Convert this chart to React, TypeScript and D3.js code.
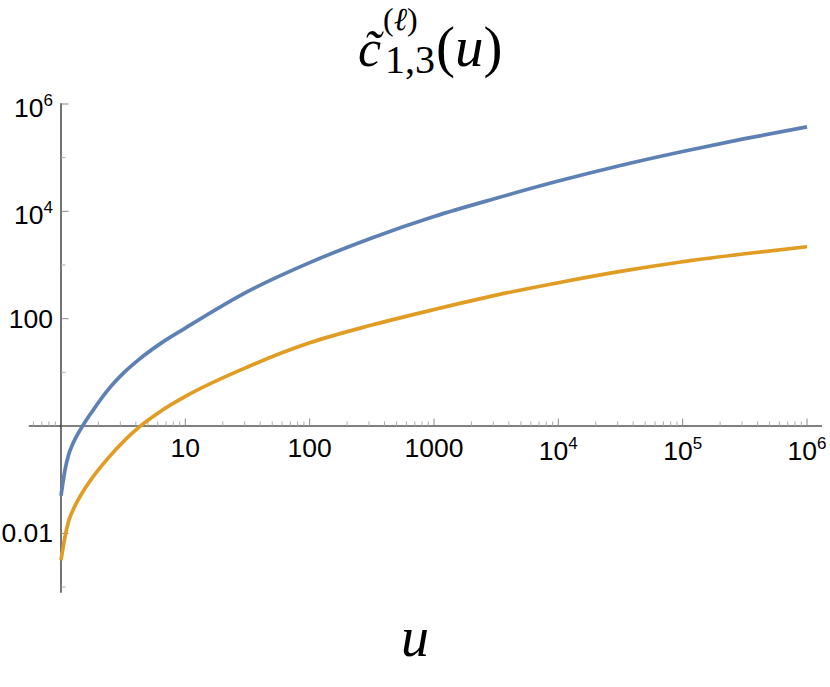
import { useEffect, useRef } from "react";
import { select, scaleLog, line, curveMonotoneX } from "d3";

// sample points (log spaced past u = 10)
const uValues = [1, 1.08, 1.15, 1.25, 1.5, 1.8, 2.3, 3.4, 4.2, 6.3, 10, 31.6, 100, 316, 1000, 3162, 1e4, 31623, 1e5, 316228, 1e6];
const blueValues = [0.05, 0.157, 0.289, 0.475, 1.02, 1.93, 4.24, 11.2, 17.1, 34.3, 66.8, 319, 1107, 3192, 8017, 17540, 36640, 71450, 130000, 226000, 375000];
const orangeValues = [0.00316, 0.00891, 0.0166, 0.0273, 0.0597, 0.111, 0.226, 0.6, 0.935, 1.87, 3.56, 12.6, 35.5, 76, 148, 275, 468, 759, 1150, 1620, 2190];

const seriesColors = ["#5E81B5", "#E19C24"];

// ticks
const xTickValues = [10, 100, 1000, 1e4, 1e5, 1e6];
const xTickLabels = ["10", "100", "1000", "10^4", "10^5", "10^6"];
const yTickValues = [1e6, 1e4, 100, 1, 0.01];
const yTickLabels = ["10^6", "10^4", "100", "", "0.01"];
const yMinorValues = [1e5, 1000, 10, 0.1, 0.001];

// axis extents
const xAxisRange = [0.55, 1.32e6];
const yAxisRange = [7.8e-4, 1.03e6];

const W = 830;
const H = 687;
const labelFont = "'Liberation Sans', Arial, Helvetica, sans-serif";
const mathFont = "'Liberation Serif', 'Times New Roman', serif";

// writes "10^4" as 10 with a raised 4
const writeLabel = (sel: any, label: string) => {
  const [base, exp] = label.split("^");
  sel.append("tspan").text(base);
  if (exp) {
    sel.append("tspan").attr("font-size", 17).attr("dy", -11).text(exp);
  }
};

const isDecade = (v: number) =>
  Math.abs(Math.log10(v) - Math.round(Math.log10(v))) < 1e-9;

export default function App() {
  const svgRef = useRef<SVGSVGElement>(null);

  useEffect(() => {
    const svg = select(svgRef.current);
    svg.selectAll(".plot").remove();
    const g = svg.append("g").attr("class", "plot");

    const x = scaleLog().domain([1, 1e6]).range([61, 807]);
    const y = scaleLog().domain([1, 1e6]).range([426, 104]);
    const x0 = y(1);
    const y0 = x(1);

    // x axis line + ticks (log minors 2..9 every decade)
    g.append("line")
      .attr("x1", x(xAxisRange[0]))
      .attr("x2", x(xAxisRange[1]))
      .attr("y1", x0)
      .attr("y2", x0)
      .attr("stroke", "#000")
      .attr("stroke-width", 1.1);

    const xAll = x.copy().domain(xAxisRange).ticks();
    g.selectAll(".xtick")
      .data(xAll.filter((v: number) => Math.abs(v - 1) > 1e-9))
      .join("line")
      .attr("class", "xtick")
      .attr("x1", (v: number) => x(v))
      .attr("x2", (v: number) => x(v))
      .attr("y1", x0)
      .attr("y2", (v: number) => (isDecade(v) ? x0 - 7.5 : x0 - 4.5))
      .attr("stroke", (v: number) => (isDecade(v) ? "#8a8a8a" : "#a8a8a8"))
      .attr("stroke-width", 1);

    xTickValues.forEach((v, i) => {
      const label = xTickLabels[i];
      const t = g
        .append("text")
        .attr("x", x(v))
        .attr("y", label.includes("^") ? x0 + 34 : x0 + 31)
        .attr("text-anchor", "middle")
        .attr("font-family", labelFont)
        .attr("font-size", 26.5)
        .attr("fill", "#000");
      writeLabel(t, label);
    });

    // y axis line + ticks
    g.append("line")
      .attr("x1", y0)
      .attr("x2", y0)
      .attr("y1", y(yAxisRange[0]))
      .attr("y2", y(yAxisRange[1]))
      .attr("stroke", "#000")
      .attr("stroke-width", 1.1);

    g.selectAll(".ytick")
      .data(yTickValues)
      .join("line")
      .attr("class", "ytick")
      .attr("x1", y0)
      .attr("x2", y0 + 7.5)
      .attr("y1", (v: number) => y(v))
      .attr("y2", (v: number) => y(v))
      .attr("stroke", "#8a8a8a")
      .attr("stroke-width", 1);

    g.selectAll(".yminor")
      .data(yMinorValues)
      .join("line")
      .attr("class", "yminor")
      .attr("x1", y0)
      .attr("x2", y0 + 4.5)
      .attr("y1", (v: number) => y(v))
      .attr("y2", (v: number) => y(v))
      .attr("stroke", "#a8a8a8")
      .attr("stroke-width", 1);

    yTickValues.forEach((v, i) => {
      const label = yTickLabels[i];
      if (!label) return;
      const t = g
        .append("text")
        .attr("x", y0 - 8)
        .attr("y", label.includes("^") ? y(v) + 12.5 : y(v) + 9)
        .attr("text-anchor", "end")
        .attr("font-family", labelFont)
        .attr("font-size", 26.5)
        .attr("fill", "#000");
      writeLabel(t, label);
    });

    // curves
    const path = line<number>()
      .x((d, i) => x(uValues[i]))
      .y((d) => y(d))
      .curve(curveMonotoneX);

    [blueValues, orangeValues].forEach((vals, k) => {
      g.append("path")
        .attr("d", path(vals))
        .attr("fill", "none")
        .attr("stroke", seriesColors[k])
        .attr("stroke-width", 3.7)
        .attr("stroke-linejoin", "round");
    });
  }, []);

  return (
    <svg
      ref={svgRef}
      width={W}
      height={H}
      style={{ position: "absolute", left: 0, top: 0, background: "#fff" }}
    >
      {/* title: c-tilde^(l)_{1,3}(u), one text element */}
      <text fontFamily={mathFont} fill="#000">
        <tspan x={358} y={66} fontSize={52} fontStyle="italic">{"c\u0303"}</tspan>
        <tspan x={383} y={30} fontSize={32}>(</tspan>
        <tspan fontSize={32} fontStyle="italic">ℓ</tspan>
        <tspan fontSize={32}>)</tspan>
        <tspan x={385} y={73} fontSize={40}>1,3</tspan>
        <tspan x={436} y={66} fontSize={57}>(</tspan>
        <tspan fontSize={57} fontStyle="italic">u</tspan>
        <tspan fontSize={57}>)</tspan>
      </text>
      <text x={415} y={656} fontFamily={mathFont} fontSize={56} fontStyle="italic" textAnchor="middle">u</text>
    </svg>
  );
}
